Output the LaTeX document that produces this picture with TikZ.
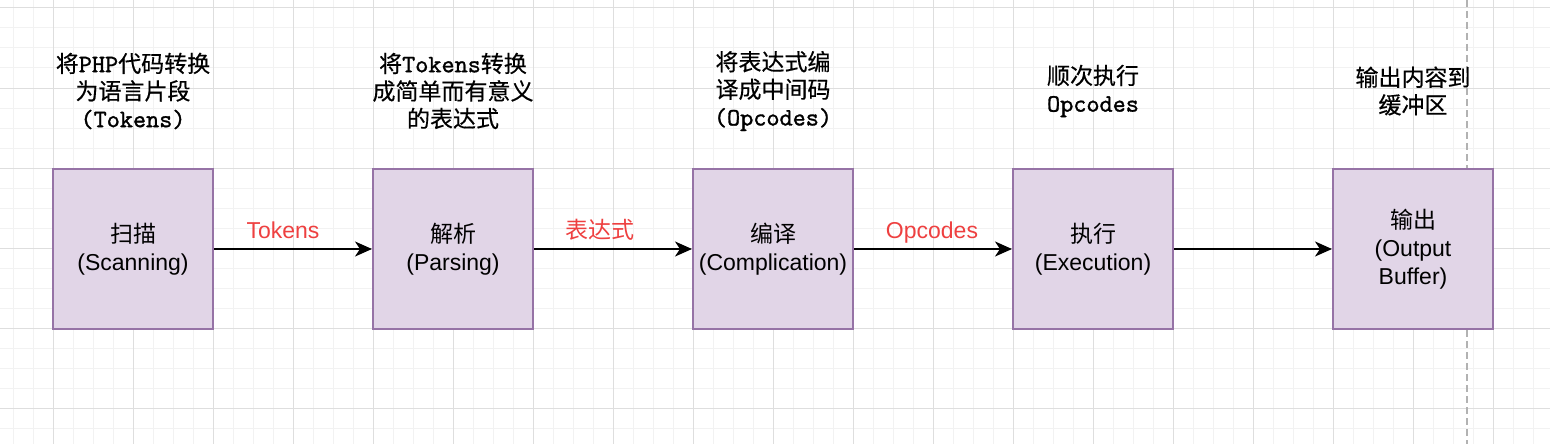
\documentclass[tikz,border=0pt]{standalone}
\usepackage{fontspec}
\setmainfont{Liberation Sans}
\newfontfamily\cjk{Noto Sans CJK SC}
\newfontfamily\cjknote[FakeBold=0.4]{Noto Sans CJK SC}
\newfontfamily\code[Extension=.otf, FakeBold=1.2]{lmmono10-regular}
\usetikzlibrary{arrows.meta}
\newcommand\zhtext[1]{{\cjk #1}}
\newcommand\codetext[1]{{\code\fontsize{25}{27.5}\selectfont #1}}
\definecolor{boxfill}{HTML}{E1D5E7}
\definecolor{boxline}{HTML}{9673A6}
\definecolor{labelred}{HTML}{EE4040}
\tikzset{
  stage/.style={draw=boxline, fill=boxfill, line width=2pt, minimum width=160pt,
    minimum height=160pt, inner sep=0pt, align=center,
    font=\fontsize{23}{28}\selectfont},
  note/.style={align=center, font=\cjknote\fontsize{23}{27.5}\selectfont},
  flowlabel/.style={text=labelred, anchor=base, font=\fontsize{23}{28}\selectfont},
  minorgrid/.style={draw=black!5, line width=1pt},
  majorgrid/.style={draw=black!13, line width=1pt},
}
\begin{document}
\begin{tikzpicture}[x=1pt, y=-1pt, >={Stealth[length=17pt, width=15pt, inset=5pt]}]
\useasboundingbox (0, 0) rectangle (1550, 444);
\fill[white] (0, 0) rectangle (1550, 444);

\foreach \x in {13, 33, ..., 1553} \draw[minorgrid] (\x, 0) -- (\x, 444);
\foreach \y in {8, 28, ..., 444} \draw[minorgrid] (0, \y) -- (1550, \y);
\foreach \x in {53, 133, ..., 1553} \draw[majorgrid] (\x, 0) -- (\x, 444);
\foreach \y in {8, 88, ..., 444} \draw[majorgrid] (0, \y) -- (1550, \y);
\draw[black!30, line width=1.5pt, dash pattern=on 7pt off 4pt] (1467, 0) -- (1467, 444);

\node[stage] (scan)  at (133, 249)  {\zhtext{扫描}\\(Scanning)};
\node[stage] (parse) at (453, 249)  {\zhtext{解析}\\(Parsing)};
\node[stage] (comp)  at (773, 249)  {\zhtext{编译}\\(Complication)};
\node[stage] (exec)  at (1093, 249) {\zhtext{执行}\\(Execution)};
\node[stage] (out)   at (1413, 249) {\zhtext{输出}\\(Output\\Buffer)};

\node[note] (scannote)  at (133, 91)  {将\codetext{PHP}代码转换\\为语言片段\\\codetext{(Tokens)}};
\node[note] (parsenote) at (453, 91)  {将\codetext{Tokens}转换\\成简单而有意义\\的表达式};
\node[note] (compnote)  at (773, 91)  {将表达式编\\译成中间码\\\codetext{(Opcodes)}};
\node[note] (execnote)  at (1093, 91) {顺次执行\\\codetext{Opcodes}};
\node[note] (outnote)   at (1413, 91) {输出内容到\\缓冲区};

\node[flowlabel] (tokens)  at (283, 238) {Tokens};
\node[flowlabel] (exprs)   at (600, 238) {\zhtext{表达式}};
\node[flowlabel] (opcodes) at (932, 238) {Opcodes};

\path[->, line width=2pt] (scan) edge node {} (parse);
\path[->, line width=2pt] (parse) edge node {} (comp);
\path[->, line width=2pt] (comp) edge node {} (exec);
\path[->, line width=2pt] (exec) edge node {} (out);
\end{tikzpicture}
\end{document}
